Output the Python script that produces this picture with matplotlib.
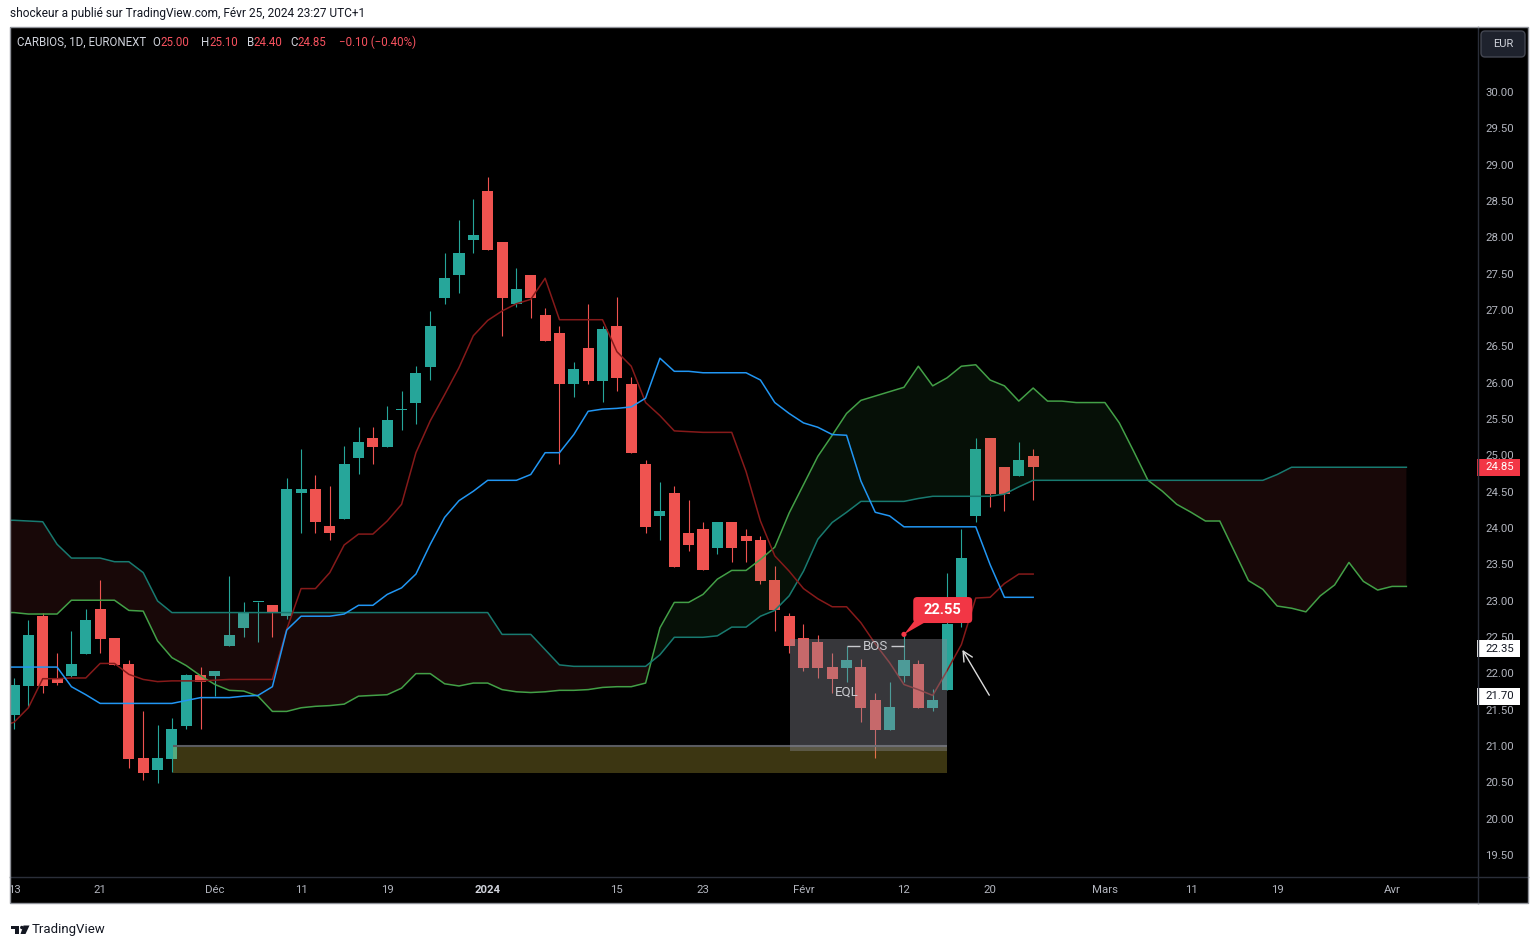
import numpy as np
import matplotlib
matplotlib.use("Agg")
import matplotlib.pyplot as plt
import matplotlib.transforms as mtransforms
from matplotlib.patches import Rectangle, FancyBboxPatch, Polygon, Circle
from matplotlib.lines import Line2D

plt.rcParams['font.family'] = ['Roboto', 'DejaVu Sans']

# daily candles, index 0 = 13 nov 2023, last = 23 feb 2024
opens = [21.44, 21.84, 22.80, 21.95, 21.98, 22.28, 22.90, 22.50, 22.14, 20.85,
         20.69, 20.84, 21.29, 21.99, 21.98, 22.39, 22.64, 22.99, 22.95, 22.80,
         24.49, 24.55, 24.04, 24.14, 24.98, 25.25, 25.13, 25.64, 25.74, 26.23,
         27.18, 27.49, 27.98, 28.65, 27.95, 27.09, 27.50, 26.95, 26.70, 25.99,
         26.49, 26.04, 26.79, 26.00, 24.89, 24.18, 24.50, 23.95, 24.00, 23.74,
         24.10, 23.90, 23.85, 23.30, 22.80, 22.50, 22.45, 22.10, 22.09, 22.10,
         21.65, 21.23, 21.98, 22.14, 21.54, 21.78, 22.70, 24.18, 25.25, 24.85,
         24.73, 25.00]
highs = [21.95, 22.75, 22.84, 22.29, 22.60, 22.90, 23.30, 22.50, 22.20, 21.50,
         21.30, 21.40, 22.00, 22.10, 22.05, 23.35, 23.00, 23.00, 22.95, 24.70,
         25.10, 24.74, 24.59, 25.14, 25.40, 25.40, 25.69, 25.90, 26.24, 27.00,
         27.80, 28.25, 28.54, 28.84, 27.95, 27.59, 27.50, 27.04, 26.79, 26.30,
         27.10, 26.79, 27.19, 26.09, 24.95, 24.65, 24.59, 24.40, 24.10, 24.10,
         24.10, 24.00, 23.90, 23.49, 22.84, 22.69, 22.54, 22.29, 22.39, 22.21,
         21.74, 21.89, 22.55, 22.20, 21.80, 23.39, 24.00, 25.25, 25.25, 24.85,
         25.20, 25.10]
lows = [21.25, 21.55, 21.75, 21.85, 21.97, 22.28, 22.30, 22.13, 20.71, 20.55,
        20.50, 20.65, 21.25, 21.25, 21.70, 22.39, 22.51, 22.45, 22.51, 22.76,
        23.95, 23.95, 23.85, 24.14, 24.75, 24.90, 25.13, 25.36, 25.45, 26.05,
        27.10, 27.25, 27.80, 27.84, 26.65, 27.05, 26.91, 26.59, 24.90, 25.81,
        26.00, 25.75, 25.90, 25.04, 23.95, 23.85, 23.48, 23.70, 23.44, 23.65,
        23.55, 23.55, 23.25, 22.60, 22.30, 22.05, 21.95, 21.74, 21.89, 21.34,
        20.85, 21.23, 21.89, 21.54, 21.50, 21.78, 22.65, 24.10, 24.30, 24.25,
        24.73, 24.40]
closes = [21.85, 22.54, 21.84, 21.88, 22.14, 22.75, 22.49, 22.13, 20.84, 20.64,
          20.85, 21.25, 21.99, 21.89, 22.05, 22.54, 22.85, 23.00, 22.84, 24.55,
          24.55, 24.09, 23.94, 24.89, 25.20, 25.13, 25.50, 25.65, 26.15, 26.79,
          27.45, 27.80, 28.05, 27.84, 27.18, 27.30, 27.18, 26.59, 25.99, 26.20,
          26.04, 26.75, 26.08, 25.04, 24.03, 24.25, 23.48, 23.78, 23.44, 24.10,
          23.74, 23.84, 23.29, 22.89, 22.39, 22.09, 22.09, 21.94, 22.20, 21.54,
          21.23, 21.55, 22.20, 21.54, 21.65, 22.69, 23.60, 25.10, 24.48, 24.48,
          24.95, 24.85]

# ichimoku lines, first value is bar -1
conv_line = [21.28, 21.34, 21.54, 21.94, 21.94, 21.95, 21.95, 22.15, 22.15, 22.00, 21.93,
             21.90, 21.91, 21.91, 21.91, 21.92, 21.93, 21.93, 21.93, 21.93, 22.62,
             23.18, 23.18, 23.40, 23.78, 23.93, 23.93, 24.11, 24.34, 25.05, 25.49,
             25.85, 26.22, 26.66, 26.87, 27.00, 27.10, 27.16, 27.45, 26.88, 26.88,
             26.88, 26.88, 26.44, 26.24, 25.74, 25.56, 25.35, 25.34, 25.33, 25.33,
             25.33, 24.79, 24.11, 23.63, 23.42, 23.18, 23.04, 22.93, 22.93, 22.71,
             22.42, 22.16, 21.86, 21.79, 21.71, 22.05, 22.41, 23.05, 23.06, 23.25,
             23.38, 23.38]
base_line = [22.10, 22.10, 22.10, 22.10, 22.10, 21.83, 21.72, 21.60, 21.60, 21.60, 21.60,
             21.60, 21.60, 21.64, 21.68, 21.68, 21.68, 21.70, 21.71, 21.83, 22.61,
             22.80, 22.80, 22.80, 22.83, 22.95, 22.95, 23.10, 23.19, 23.38, 23.79,
             24.16, 24.39, 24.52, 24.67, 24.67, 24.67, 24.75, 25.05, 25.05, 25.30,
             25.62, 25.65, 25.66, 25.68, 25.80, 26.35, 26.17, 26.17, 26.15, 26.15,
             26.15, 26.15, 26.05, 25.74, 25.59, 25.46, 25.40, 25.30, 25.29, 24.66,
             24.23, 24.18, 24.03, 24.03, 24.03, 24.03, 24.03, 24.03, 23.51, 23.06,
             23.06, 23.06]
span_a = [22.85, 22.85, 22.83, 22.83, 22.83, 23.02, 23.02, 23.02, 23.02, 22.88, 22.87,
          22.46, 22.23, 22.12, 21.98, 21.86, 21.78, 21.77, 21.70, 21.49, 21.49,
          21.54, 21.56, 21.57, 21.59, 21.70, 21.71, 21.72, 21.81, 22.01, 22.01,
          21.87, 21.84, 21.88, 21.88, 21.79, 21.76, 21.75, 21.76, 21.78, 21.78,
          21.79, 21.82, 21.83, 21.83, 21.88, 22.64, 22.99, 22.99, 23.10, 23.31,
          23.43, 23.43, 23.58, 23.75, 24.22, 24.61, 25.00, 25.29, 25.59, 25.77,
          25.83, 25.89, 25.95, 26.24, 25.97, 26.08, 26.24, 26.26, 26.05, 25.97,
          25.76, 25.94, 25.76, 25.76, 25.74, 25.74, 25.74, 25.46, 25.07, 24.67,
          24.52, 24.34, 24.23, 24.11, 24.11, 23.70, 23.29, 23.17, 22.94, 22.91,
          22.86, 23.08, 23.23, 23.54, 23.28, 23.16, 23.21, 23.21]
span_b = [24.12, 24.12, 24.11, 24.10, 23.79, 23.60, 23.60, 23.60, 23.55, 23.55, 23.40,
          23.01, 22.85, 22.85, 22.85, 22.85, 22.85, 22.85, 22.85, 22.85, 22.85,
          22.85, 22.85, 22.85, 22.85, 22.85, 22.85, 22.85, 22.85, 22.85, 22.85,
          22.85, 22.85, 22.85, 22.85, 22.55, 22.55, 22.55, 22.34, 22.13, 22.11,
          22.11, 22.11, 22.11, 22.11, 22.11, 22.27, 22.51, 22.51, 22.51, 22.53,
          22.65, 22.65, 22.80, 22.88, 23.08, 23.42, 23.86, 24.09, 24.23, 24.38,
          24.38, 24.38, 24.38, 24.42, 24.45, 24.45, 24.45, 24.45, 24.45, 24.48,
          24.58, 24.67, 24.67, 24.67, 24.67, 24.67, 24.67, 24.67, 24.67, 24.67,
          24.67, 24.67, 24.67, 24.67, 24.67, 24.67, 24.67, 24.67, 24.75, 24.85,
          24.85, 24.85, 24.85, 24.85, 24.85, 24.85, 24.85, 24.85]

tick_pos = [0, 6, 14, 20, 26, 33, 42, 48, 55, 62, 68, 76, 82, 88, 96]
tick_lbl = ["13", "21", "Déc", "11", "19", "2024", "15", "23", "Févr", "12", "20",
            "Mars", "11", "19", "Avr"]
price_ticks = np.arange(19.5, 30.01, 0.5)
marked_prices = [22.35, 21.70]

demand_zone = (11.1, 65.0, 20.64, 21.00)   # x0, x1, y0, y1
range_box = (54.05, 65.0, 20.94, 22.49)
bos_from, bos_to = 58, 62
bos_level = highs[62]
eql_at = (58, 21.76)
callout_at = (64.7, 22.885)
arrow_from, arrow_to = (68.04, 21.68), (65.97, 22.37)

TEAL, RED = '#26a69a', '#ef5350'
AXIS_TXT = '#b2b5be'
LIGHT = '#d1d4dc'

W, H = 1539, 939
fig = plt.figure(figsize=(W / 100, H / 100), dpi=100, facecolor='white')
PX = mtransforms.Affine2D().scale(1, -1).translate(0, H)   # pixel coords, origin top left
ID = mtransforms.IdentityTransform()


def frac(x0, y0, x1, y1):
    return [x0 / W, 1 - y1 / H, (x1 - x0) / W, (y1 - y0) / H]


fig.add_artist(Rectangle((10, 27), 1518, 876, transform=PX, facecolor='black',
                         edgecolor='none', zorder=-5))

x_lim = (-0.279, 101.92)
y_lim = (19.225, 30.908)

ax = fig.add_axes(frac(10, 27, 1477, 876))
ax.set_xlim(*x_lim)
ax.set_ylim(*y_lim)
ax.axis('off')

# candles
o, h, l, c = map(np.array, (opens, highs, lows, closes))
idx = np.arange(len(o))
col = np.where(c >= o, TEAL, RED)
ax.vlines(idx, l, h, colors=col, lw=0.8, zorder=3)
ax.bar(idx, np.maximum(np.abs(c - o), 0.015), bottom=np.minimum(o, c), width=0.77,
       color=col, lw=0, zorder=4)

# cloud
sa, sb = np.array(span_a), np.array(span_b)
xc = np.arange(-1, -1 + len(sa))
ax.fill_between(xc, sa, sb, where=sa >= sb, interpolate=True, color='#43a047',
                alpha=0.1, lw=0, zorder=5)
ax.fill_between(xc, sa, sb, where=sa < sb, interpolate=True, color='#ef5350',
                alpha=0.1, lw=0, zorder=5)
ax.plot(xc, sa, color='#43a047', lw=1.1, zorder=6)
ax.plot(xc, sb, color='#187a70', lw=1.1, zorder=6)
xl = np.arange(-1, -1 + len(conv_line))
ax.plot(xl, conv_line, color='#861a1a', lw=1.1, zorder=6)
ax.plot(xl, base_line, color='#2196f3', lw=1.1, zorder=6)

# drawings
x0, x1, y0, y1 = demand_zone
ax.add_patch(Rectangle((x0, y0), x1 - x0, y1 - y0, facecolor='#c8b43c', alpha=0.3,
                       lw=0, zorder=7))
ax.hlines(y1 + 0.02, x0, x1, color='#5a5b60', lw=1.5, zorder=7)
x0, x1, y0, y1 = range_box
ax.add_patch(Rectangle((x0, y0), x1 - x0, y1 - y0, facecolor='#8a8c96', alpha=0.4,
                       lw=0, zorder=8))
ax.hlines(highs[bos_from], bos_from, bos_from + 0.97, color='#c9cacf', lw=1, zorder=9)
ax.hlines(highs[bos_from], bos_to - 0.9, bos_to, color='#c9cacf', lw=1, zorder=9)
ax.text((bos_from + bos_to) / 2 + 0.05, highs[bos_from], "BOS", color='#c9cacf',
        fontsize=9.5, ha='center', va='center', zorder=9)
ax.text(*eql_at, "EQL", color='#c9cacf', fontsize=9.5, ha='center', va='center', zorder=9)
ax.annotate('', xy=arrow_to, xytext=arrow_from, zorder=10,
            arrowprops=dict(arrowstyle='->,head_length=0.7,head_width=0.35',
                            color='#dcdcdc', lw=1))

# callout
bx, by = ax.transData.transform(callout_at)
tx, ty = ax.transData.transform((bos_to, bos_level))
bw, bh = 59, 26
fig.add_artist(Polygon([(bx - bw / 2 + 1, by - bh / 2 + 2), (bx - bw / 2 + 14, by - bh / 2 + 2),
                        (tx, ty)], closed=True, transform=ID, fc='#f23645', ec='none', zorder=6))
fig.add_artist(FancyBboxPatch((bx - bw / 2, by - bh / 2), bw, bh,
                              boxstyle='round,pad=0,rounding_size=4', transform=ID,
                              fc='#f23645', ec='none', zorder=6))
fig.add_artist(Circle((tx, ty), 2.6, transform=ID, fc='#f23645', ec='none', zorder=6))
fig.text(bx, by, f"{bos_level:.2f}", transform=ID, ha='center', va='center',
         color='white', fontsize=10.5, fontweight='bold', zorder=7)

# price scale
ax_p = fig.add_axes(frac(1477, 27, 1528, 876))
ax_p.set_xlim(0, 1)
ax_p.set_ylim(*y_lim)
ax_p.axis('off')
for p in price_ticks:
    ax_p.text(0.44, p, f"{p:.2f}", ha='center', va='center', color=AXIS_TXT,
              fontsize=8.2, clip_on=True)
tag_h = 17 / 72.667
tags = [(closes[-1], '#f23645', 'white')] + [(p, 'white', '#131722') for p in marked_prices]
for p, fc, tc in tags:
    ax_p.add_patch(Rectangle((0, p - tag_h / 2), 0.843, tag_h, fc=fc, ec='none', zorder=5))
    ax_p.text(0.44, p, f"{p:.2f}", ha='center', va='center', color=tc, fontsize=8.2, zorder=6)

# time scale
ax_t = fig.add_axes(frac(10, 876, 1477, 903))
ax_t.set_xlim(*x_lim)
ax_t.set_ylim(0, 1)
ax_t.axis('off')
for pos, lbl in zip(tick_pos, tick_lbl):
    bold = lbl == "2024"
    ax_t.text(pos, 0.48, lbl, ha='center', va='center', fontsize=8.2, clip_on=True,
              color=LIGHT if bold else AXIS_TXT, fontweight='bold' if bold else 'normal')

# frame + separators
fig.add_artist(Line2D([1477.5, 1477.5], [27, 903], transform=PX, color='#2a2e39', lw=1))
fig.add_artist(Line2D([10, 1528], [876.5, 876.5], transform=PX, color='#2a2e39', lw=1))
fig.add_artist(Rectangle((10, 27), 1518, 876, transform=PX, fill=False,
                         edgecolor='#8f9299', lw=1, zorder=8))

# currency button
fig.add_artist(FancyBboxPatch((1481, 31), 44, 26, boxstyle='round,pad=0,rounding_size=4',
                              transform=PX, fc='#1e222d', ec='#434651', lw=1, zorder=4))
fig.text(1503, 44, "EUR", transform=PX, ha='center', va='center', color=LIGHT,
         fontsize=8, zorder=5)

# header texts
fig.text(10, 14, "shockeur a publié sur TradingView.com, Févr 25, 2024 23:27 UTC+1",
         transform=PX, ha='left', va='center', color='#131722', fontsize=8.6)

r = fig.canvas.get_renderer()
VAL = '#f7525f'
chg = closes[-1] - closes[-2]
pct = chg / closes[-2] * 100
legend_groups = [
    (17, [("CARBIOS, 1D, EURONEXT", LIGHT)]),
    (152.5, [("O", LIGHT), (f"{opens[-1]:.2f}", VAL)]),
    (201.5, [("H", LIGHT), (f"{highs[-1]:.2f}", VAL)]),
    (246.5, [("B", LIGHT), (f"{lows[-1]:.2f}", VAL)]),
    (290.5, [("C", LIGHT), (f"{closes[-1]:.2f}", VAL)]),
    (339, [(f"{chg:.2f} ({pct:.2f}%)".replace('-', '\u2212'), VAL)]),
]
for gx, parts in legend_groups:
    for s, colr in parts:
        t = fig.text(gx, 42, s, transform=PX, ha='left', va='center', color=colr,
                     fontsize=8.3, zorder=6)
        gx += t.get_window_extent(renderer=r).width

# watermark
logo = '#131722'
fig.add_artist(Rectangle((11, 925.5), 8, 3, transform=PX, fc=logo, ec='none'))
fig.add_artist(Rectangle((15, 925.5), 4, 8.5, transform=PX, fc=logo, ec='none'))
fig.add_artist(Circle((21.8, 927.5), 1.7, transform=PX, fc=logo, ec='none'))
fig.add_artist(Polygon([(23.5, 925.5), (29.5, 925.5), (25.5, 934), (20.5, 934)],
                       transform=PX, fc=logo, ec='none'))
fig.text(32, 929, "TradingView", transform=PX, ha='left', va='center', color=logo,
         fontsize=9.5)

fig.savefig('out.png', dpi=100, facecolor='white')
